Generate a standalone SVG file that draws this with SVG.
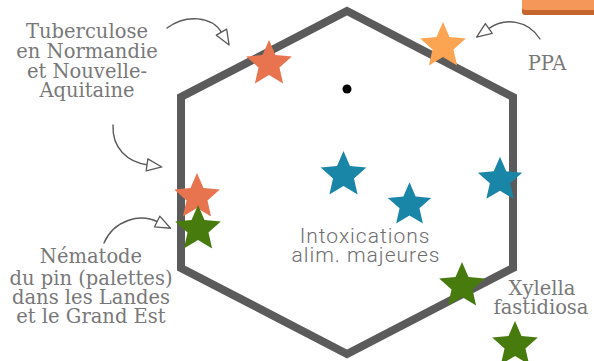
<svg xmlns="http://www.w3.org/2000/svg" width="594" height="361" viewBox="0 0 594 361">
<style>
.lbl{font-family:"DejaVu Serif","Liberation Serif",serif;font-size:19.5px;fill:#787878;text-anchor:middle}
.sans{font-family:Roboto,"Liberation Sans",sans-serif;font-weight:300;font-size:21px;letter-spacing:1px;fill:#6e6e6e;text-anchor:middle}
.arr{fill:none;stroke:#5a5a5a;stroke-width:1.4;stroke-linecap:round}
.red{fill:#e8734f}.orange{fill:#fba451}.blue{fill:#1a86a7}.green{fill:#487b0e}
</style>
<defs>
<path id="star" d="M0,-24 L6.47,-8.9 L22.83,-7.42 L10.46,3.4 L14.11,19.42 L0,11 L-14.11,19.42 L-10.46,3.4 L-22.83,-7.42 L-6.47,-8.9 Z"/>
<marker id="head" markerUnits="userSpaceOnUse" markerWidth="22" markerHeight="18" refX="3" refY="8" orient="auto">
<path d="M2,2 L17,8 L2,14 Z" fill="#fff" stroke="#5a5a5a" stroke-width="1.3" stroke-linejoin="round"/>
</marker>
</defs>
<rect width="594" height="361" fill="#fff"/>
<g id="banner">
<rect x="522" y="-6" width="80" height="21" rx="3" fill="#c4652e"/>
<rect x="522" y="-6" width="80" height="16" rx="3" fill="#f49758"/>
</g>
<g id="hexagon">
<polygon points="347,11 513,97 513,268 347,354 181,268 181,97" fill="none" stroke="#5b5b5b" stroke-width="8" stroke-linejoin="miter"/>
<circle cx="347" cy="89" r="4.5" fill="#000"/>
</g>
<g id="connectors">
<path class="arr" d="M167,28 C186,14 212,16 222,33" marker-end="url(#head)"/>
<path class="arr" d="M113,125 C112,148 127,162 148,165" marker-end="url(#head)"/>
<path class="arr" d="M104,243 C114,220 140,213 158,222" marker-end="url(#head)"/>
<path class="arr" d="M540,39 C528,20 505,17 488,29" marker-end="url(#head)"/>
</g>
<g id="stars">
<use href="#star" class="red" transform="translate(269,64)"/>
<use href="#star" class="orange" transform="translate(443,46)"/>
<use href="#star" class="blue" transform="translate(343.5,175)"/>
<use href="#star" class="blue" transform="translate(409.5,205) scale(0.95)"/>
<use href="#star" class="blue" transform="translate(500,180) scale(0.97)"/>
<use href="#star" class="red" transform="translate(197,197)"/>
<use href="#star" class="green" transform="translate(198,229)"/>
<use href="#star" class="green" transform="translate(462,286)"/>
<use href="#star" class="green" transform="translate(515,345)"/>
</g>
<g id="label-tuberculose">
<text class="lbl" x="87" y="38">Tuberculose</text>
<text class="lbl" x="87" y="58">en Normandie</text>
<text class="lbl" x="87" y="78">et Nouvelle-</text>
<text class="lbl" x="87" y="97">Aquitaine</text>
</g>
<g id="label-ppa">
<text class="lbl" x="547" y="70">PPA</text>
</g>
<g id="label-nematode">
<text class="lbl" x="91" y="263">Nématode</text>
<text class="lbl" x="91" y="285">du pin (palettes)</text>
<text class="lbl" x="91" y="304">dans les Landes</text>
<text class="lbl" x="91" y="323">et le Grand Est</text>
</g>
<g id="label-intox">
<text class="sans" x="365" y="243">Intoxications</text>
<text class="sans" x="366" y="262">alim. majeures</text>
</g>
<g id="label-xylella">
<text class="lbl" x="542" y="295">Xylella</text>
<text class="lbl" x="541" y="314">fastidiosa</text>
</g>
</svg>
